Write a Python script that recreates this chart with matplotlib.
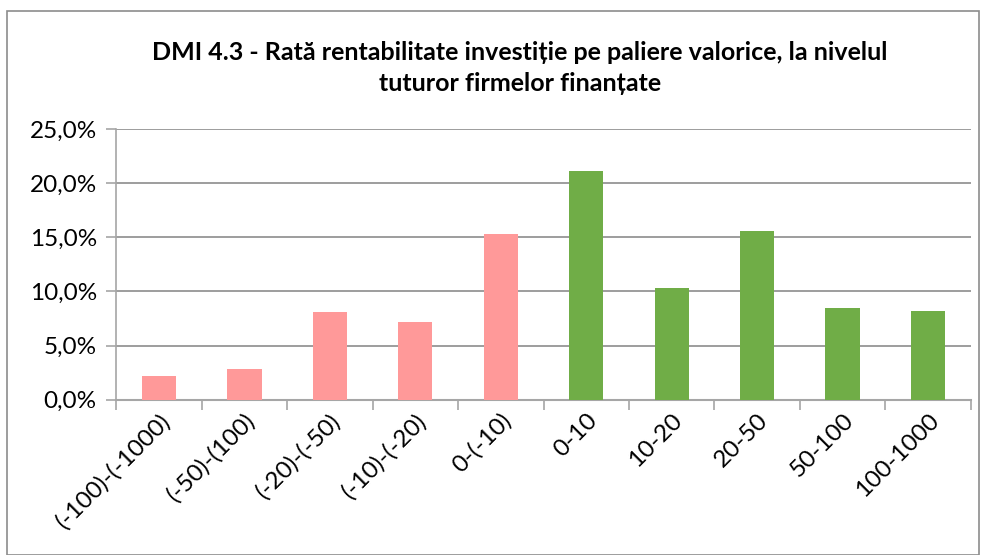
import matplotlib
matplotlib.use("Agg")
import matplotlib.pyplot as plt
from matplotlib.patches import Rectangle
from matplotlib.ticker import FuncFormatter, MultipleLocator

categories = ["(-100)-(-1000)", "(-50)-(100)", "(-20)-(-50)", "(-10)-(-20)", "0-(-10)",
              "0-10", "10-20", "20-50", "50-100", "100-1000"]
values = [2.2, 2.8, 8.1, 7.2, 15.3, 21.1, 10.3, 15.6, 8.5, 8.2]
colors = ["#FF9999"] * 5 + ["#70AD47"] * 5
title = "DMI 4.3 - Rată rentabilitate investiție pe paliere valorice, la nivelul\ntuturor firmelor finanțate"

plt.rcParams['font.family'] = ['Lato', 'DejaVu Sans']

fig = plt.figure(figsize=(9.85, 5.55), dpi=100)
W, H = 985, 555
ax = fig.add_axes([116.3 / W, 1 - 399.7 / H, (970.7 - 116.3) / W, (399.7 - 129) / H])

x = list(range(len(categories)))
ax.bar(x, values, width=0.4, color=colors, zorder=3)

ax.set_xlim(-0.5, len(categories) - 0.5)
ax.set_ylim(0, 25)
ax.yaxis.set_major_locator(MultipleLocator(5))
ax.yaxis.set_major_formatter(FuncFormatter(lambda v, p: f"{v:.1f}%".replace(".", ",")))
ax.grid(axis='y', color='#8c8c8c', linewidth=1.2, zorder=0)

for s in ['top', 'right']:
    ax.spines[s].set_visible(False)
ax.spines['left'].set_color('#a6a6a6')
ax.spines['bottom'].set_color('#a6a6a6')
ax.spines['left'].set_linewidth(1.2)
ax.spines['bottom'].set_linewidth(1.5)

ax.set_xticks(x)
ax.set_xticklabels(categories, rotation=45, ha='right', rotation_mode='anchor', fontsize=17.5)
ax.tick_params(axis='x', length=0, pad=7)
ax.set_xticks([i - 0.5 for i in range(len(categories) + 1)], minor=True)
ax.tick_params(axis='x', which='minor', length=7, color='#a6a6a6', width=1.2)
ax.tick_params(axis='y', length=7, color='#a6a6a6', width=1.2, labelsize=17.5, pad=7)

fig.text(520 / W, 1 - 68 / H, title, ha='center', va='center', fontsize=18,
         fontweight='bold', linespacing=1.38)

fig.patches.append(Rectangle((7 / W, 0), (979 - 7) / W, (555 - 11) / H,
                             transform=fig.transFigure, fill=False,
                             edgecolor='#8c8c8c', linewidth=1.2))

fig.savefig("out.png", dpi=100)
